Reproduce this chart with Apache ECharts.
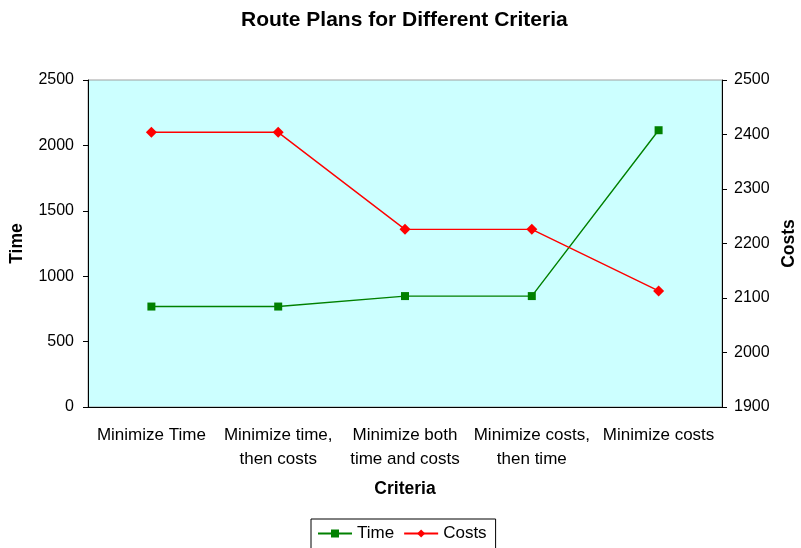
<!DOCTYPE html>
<html><head><meta charset="utf-8">
<script src="https://cdn.jsdelivr.net/npm/echarts@6/dist/echarts.min.js"></script>
<style>html,body{margin:0;padding:0;background:#fff}#c{width:801px;height:548px}</style>
</head><body><div id="c"></div>
<script>
const categories = ['Minimize Time', 'Minimize time,\nthen costs', 'Minimize both\ntime and costs', 'Minimize costs,\nthen time', 'Minimize costs'];
const timeValues = [768, 768, 848, 848, 2116];
const costValues = [2404, 2404, 2226, 2226, 2113];
const FONT = 'Liberation Sans, Arial, sans-serif';
const chart = echarts.init(document.getElementById('c'));
chart.setOption({
  animation: false,
  backgroundColor: '#fff',
  textStyle: { fontFamily: FONT },
  title: { text: 'Route Plans for Different Criteria', left: 241, top: 10, padding: 0,
    textStyle: { fontFamily: FONT, fontSize: 21, fontWeight: 'bold', color: '#000' } },
  grid: { left: 88, right: 79, top: 80, bottom: 141, outerBoundsMode: 'none', containLabel: false,
    show: true, backgroundColor: '#ccffff', borderColor: '#a0a0a0', borderWidth: 1 },
  legend: { bottom: -8, left: 311, data: ['Time', 'Costs'], itemWidth: 34, itemHeight: 10, itemGap: 9,
    borderColor: '#000', borderWidth: 1, padding: [6, 9, 14, 6], borderRadius: 0,
    textStyle: { fontFamily: FONT, fontSize: 17, color: '#000' } },
  xAxis: [
    { type: 'category', data: categories, boundaryGap: true, position: 'bottom',
      name: 'Criteria', nameLocation: 'middle', nameGap: 73,
      nameTextStyle: { fontFamily: FONT, fontSize: 17.5, fontWeight: 'bold', color: '#000' },
      axisLine: { lineStyle: { color: '#000', width: 1 } },
      axisTick: { length: 5, lineStyle: { color: '#000' } },
      axisLabel: { margin: 16, fontFamily: FONT, fontSize: 17, color: '#000', lineHeight: 24, interval: 0 },
      splitLine: { show: false } },
    { type: 'category', data: categories, boundaryGap: true, position: 'bottom',
      axisLine: { show: false }, axisTick: { inside: true, length: 4, lineStyle: { color: '#000' } },
      axisLabel: { show: false }, splitLine: { show: false } }
  ],
  yAxis: [
    { type: 'value', min: 0, max: 2500, interval: 500, position: 'left',
      name: 'Time', nameLocation: 'middle', nameGap: 62, nameRotate: 90,
      nameTextStyle: { fontFamily: FONT, fontSize: 17.5, fontWeight: 'bold', color: '#000' },
      axisLine: { show: true, lineStyle: { color: '#000', width: 1 } },
      axisTick: { show: true, length: 5, lineStyle: { color: '#000' } },
      axisLabel: { margin: 14, fontFamily: FONT, fontSize: 16, color: '#000', formatter: v => String(v) },
      splitLine: { show: false } },
    { type: 'value', min: 1900, max: 2500, interval: 100, position: 'right',
      name: 'Costs', nameLocation: 'middle', nameGap: 58, nameRotate: 90,
      nameTextStyle: { fontFamily: FONT, fontSize: 17.5, fontWeight: 'bold', color: '#000' },
      axisLine: { show: true, lineStyle: { color: '#000', width: 1 } },
      axisTick: { show: true, length: 5, lineStyle: { color: '#000' } },
      axisLabel: { margin: 12, fontFamily: FONT, fontSize: 16, color: '#000', formatter: v => String(v) },
      splitLine: { show: false } }
  ],
  series: [
    { name: 'Time', type: 'line', xAxisIndex: 0, yAxisIndex: 0, data: timeValues,
      symbol: 'rect', symbolSize: 8, color: '#008000',
      lineStyle: { color: '#008000', width: 1.4 }, itemStyle: { color: '#008000' } },
    { name: 'Costs', type: 'line', xAxisIndex: 0, yAxisIndex: 1, data: costValues,
      symbol: 'diamond', symbolSize: 11, color: '#ff0000',
      lineStyle: { color: '#ff0000', width: 1.4 }, itemStyle: { color: '#ff0000' } }
  ]
});
</script></body></html>
